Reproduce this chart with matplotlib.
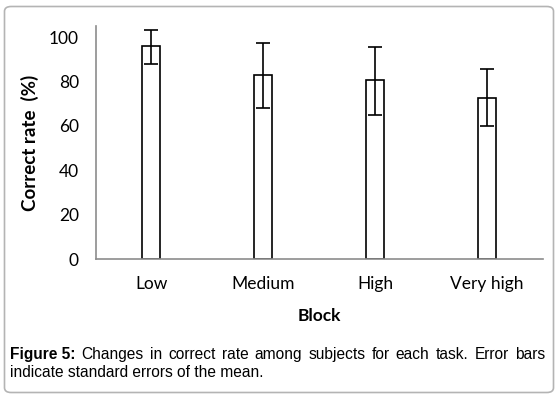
import matplotlib
matplotlib.use("Agg")
import matplotlib.pyplot as plt
from matplotlib.patches import FancyBboxPatch

blocks = ["Low", "Medium", "High", "Very high"]
correct_rate = [96, 83, 80.5, 72.5]
err_low = [8, 15, 15.5, 12.5]
err_high = [7, 14.5, 15, 13]

W, H = 559, 399
fig = plt.figure(figsize=(W / 100, H / 100), dpi=100)

# rounded frame round the whole figure
frame = FancyBboxPatch((4.5 / W, 6.5 / H), 549 / W, 386 / H,
                       boxstyle="round,pad=0,rounding_size=0.012",
                       transform=fig.transFigure, fill=False,
                       edgecolor="#b4b4b4", linewidth=1.2)
fig.patches.append(frame)

ax = fig.add_axes([95.5 / W, 1 - 259 / H, (543 - 95.5) / W, (259 - 26) / H])
ax.bar(range(len(blocks)), correct_rate, width=0.16, color="white",
       edgecolor="black", linewidth=1.2,
       yerr=[err_low, err_high], capsize=5,
       error_kw=dict(elinewidth=1.2, capthick=1.2, ecolor="black"))

ax.set_xlim(-0.5, 3.5)
ax.set_ylim(0, 105)
ax.set_yticks([0, 20, 40, 60, 80, 100])
ax.set_xticks(range(len(blocks)))
ax.set_xticklabels(blocks)
ax.tick_params(length=0, labelsize=12.5, pad=12)
for lbl in ax.get_xticklabels() + ax.get_yticklabels():
    lbl.set_family("Lato")
for s in ["top", "right"]:
    ax.spines[s].set_visible(False)
for s in ["left", "bottom"]:
    ax.spines[s].set_color("#8c8c8c")
    ax.spines[s].set_linewidth(1.2)

ax.set_ylabel("Correct rate  (%)", fontsize=13.5, fontweight="bold",
              family="Lato", labelpad=7)
ax.set_xlabel("Block", fontsize=12.5, fontweight="bold", family="Lato",
              labelpad=12)

# caption, justified first line
cap_font = dict(family="Liberation Sans", fontsize=11.2)
line1_words = ["Changes", "in", "correct", "rate", "among", "subjects",
               "for", "each", "task.", "Error", "bars"]
x0, x1 = 10 / W, 545 / W
y1, y2 = 1 - 359 / H, 1 - 377 / H

fig.canvas.draw()
r = fig.canvas.get_renderer()
head = fig.text(x0, y1, "Figure 5:", fontweight="bold", va="baseline", **cap_font)
hw = head.get_window_extent(r).width / W
words = [fig.text(0, y1, w, va="baseline", **cap_font) for w in line1_words]
widths = [t.get_window_extent(r).width / W for t in words]
gap = (x1 - x0 - hw - sum(widths)) / len(words)
x = x0 + hw + gap
for t, w in zip(words, widths):
    t.set_x(x)
    x += w + gap

fig.text(x0, y2, "indicate standard errors of the mean.", va="baseline", **cap_font)

fig.savefig("out.png", dpi=100)
